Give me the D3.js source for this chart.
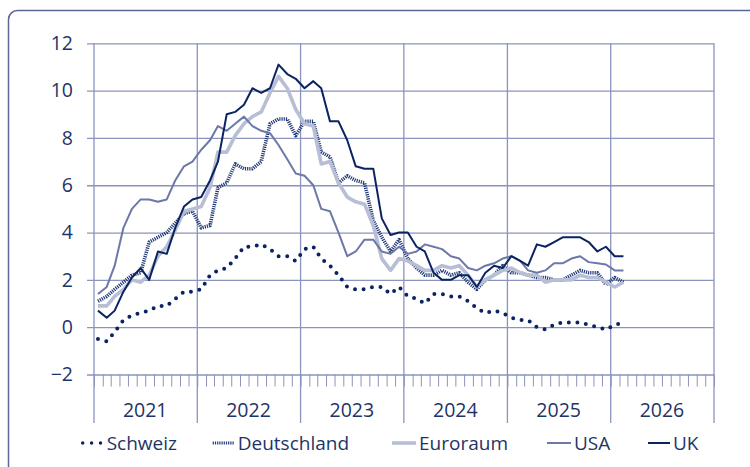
<!DOCTYPE html>
<html>
<head>
<meta charset="utf-8">
<script src="https://cdn.jsdelivr.net/npm/d3@7"></script>
<style>
  body { margin: 0; background: #fff; }
  svg text { font-family: "Open Sans", sans-serif; fill: #1f3466; }
</style>
</head>
<body>
<div id="maViz"></div>
<script>
// Teuerung in % ggü. Vorjahr, Monatswerte Jan 2021 - Feb 2026
const series = ["Schweiz", "Deutschland", "Euroraum", "USA", "UK"];
const yearLabels = ["2021", "2022", "2023", "2024", "2025", "2026"];
const yTicks = [-2, 0, 2, 4, 6, 8, 10, 12];

const schweiz = [
  -0.5, -0.6, -0.2, 0.3, 0.5, 0.6, 0.7, 0.9, 0.9, 1.2, 1.5, 1.5,
  1.6, 2.2, 2.4, 2.5, 2.9, 3.4, 3.4, 3.5, 3.3, 3.0, 3.0, 2.8,
  3.3, 3.4, 2.9, 2.6, 2.2, 1.7, 1.6, 1.6, 1.7, 1.7, 1.4, 1.7,
  1.3, 1.2, 1.0, 1.4, 1.4, 1.3, 1.3, 1.1, 0.8, 0.6, 0.7, 0.6,
  0.4, 0.3, 0.3, 0.0, -0.1, 0.1, 0.2, 0.2, 0.2, 0.1, 0.0, -0.1,
  0.1, 0.2
];
const deutschland = [
  1.1, 1.3, 1.6, 1.9, 2.2, 2.3, 3.6, 3.8, 4.0, 4.4, 4.8, 4.9,
  4.2, 4.3, 5.9, 6.1, 6.9, 6.7, 6.7, 7.0, 8.6, 8.8, 8.8, 8.1,
  8.7, 8.7, 7.4, 7.2, 6.1, 6.4, 6.2, 6.1, 4.5, 3.8, 3.2, 3.7,
  2.9, 2.5, 2.2, 2.2, 2.4, 2.2, 2.3, 1.9, 1.6, 2.0, 2.2, 2.6,
  2.3, 2.3, 2.2, 2.1, 2.1, 2.0, 2.0, 2.2, 2.4, 2.3, 2.3, 1.8,
  2.1, 1.9
];
const euroraum = [
  0.9, 0.9, 1.3, 1.6, 2.0, 1.9, 2.2, 3.0, 3.4, 4.1, 4.9, 5.0,
  5.1, 5.9, 7.4, 7.4, 8.1, 8.6, 8.9, 9.1, 9.9, 10.6, 10.1, 9.2,
  8.6, 8.5, 6.9, 7.0, 6.1, 5.5, 5.3, 5.2, 4.3, 2.9, 2.4, 2.9,
  2.8, 2.6, 2.4, 2.4, 2.6, 2.5, 2.6, 2.2, 1.7, 2.0, 2.2, 2.4,
  2.5, 2.3, 2.2, 2.2, 1.9, 2.0, 2.0, 2.0, 2.2, 2.1, 2.1, 1.9,
  1.7, 1.9
];
const usa = [
  1.4, 1.7, 2.6, 4.2, 5.0, 5.4, 5.4, 5.3, 5.4, 6.2, 6.8, 7.0,
  7.5, 7.9, 8.5, 8.3, 8.6, 8.9, 8.5, 8.3, 8.2, 7.7, 7.1, 6.5,
  6.4, 6.0, 5.0, 4.9, 4.0, 3.0, 3.2, 3.7, 3.7, 3.2, 3.1, 3.4,
  3.1, 3.2, 3.5, 3.4, 3.3, 3.0, 2.9, 2.5, 2.4, 2.6, 2.7, 2.9,
  3.0, 2.8, 2.4, 2.3, 2.4, 2.7, 2.7, 2.9, 3.0, 2.75, 2.7, 2.65,
  2.4, 2.4
];
const uk = [
  0.7, 0.4, 0.7, 1.5, 2.1, 2.5, 2.0, 3.2, 3.1, 4.2, 5.1, 5.4,
  5.5, 6.2, 7.0, 9.0, 9.1, 9.4, 10.1, 9.9, 10.1, 11.1, 10.7, 10.5,
  10.1, 10.4, 10.1, 8.7, 8.7, 7.9, 6.8, 6.7, 6.7, 4.6, 3.9, 4.0,
  4.0, 3.4, 3.2, 2.3, 2.0, 2.0, 2.2, 2.2, 1.7, 2.3, 2.6, 2.5,
  3.0, 2.8, 2.6, 3.5, 3.4, 3.6, 3.8, 3.8, 3.8, 3.6, 3.2, 3.4,
  3.0, 3.0
];
const values = [schweiz, deutschland, euroraum, usa, uk];

// styles par série
const styles = [
  {color: "#0b2461", width: 4,   dash: "0 8.6", cap: "round"},
  {color: "#213a78", width: 3.6, dash: "1.2 1", cap: "butt"},
  {color: "#b7bed6", width: 3.6, dash: null,    cap: "butt"},
  {color: "#6b78a8", width: 2,   dash: null,    cap: "butt"},
  {color: "#0b2461", width: 2,   dash: null,    cap: "butt"}
];
const gridColor = "#8a94bd";

const W = 750, H = 467;
const plotLeft = 94, plotRight = 714, plotTop = 43.3, plotBottom = 374.5;

const svg = d3.select("#maViz").append("svg")
  .attr("width", W).attr("height", H);

// cadre
svg.append("rect")
  .attr("x", 8.5).attr("y", 10.5)
  .attr("width", 800).attr("height", 500)
  .attr("rx", 9)
  .attr("fill", "none")
  .attr("stroke", "#5a6892")
  .attr("stroke-width", 1.5);

// échelles
const x = d3.scaleTime()
  .domain([new Date(2021, 0, 1), new Date(2027, 0, 1)])
  .range([plotLeft, plotRight]);
const y = d3.scaleLinear().domain([-2, 12]).range([plotBottom, plotTop]);

const dates = d3.range(schweiz.length).map(i => new Date(2021, i, 15));

// grille horizontale + labels Y
const yAxis = svg.append("g")
  .attr("transform", `translate(${plotRight},0)`)
  .call(d3.axisLeft(y).tickValues(yTicks).tickSize(plotRight - plotLeft + 7).tickPadding(14).tickFormat(d3.format("d")));
yAxis.select(".domain").remove();
yAxis.selectAll("line").attr("stroke", gridColor).attr("stroke-width", 1.3);
yAxis.selectAll("text").style("font-size", "19.5px").attr("fill", "#1f3466");

// lignes verticales des années
const years = d3.timeYear.range(new Date(2021, 0, 1), new Date(2027, 0, 2));
svg.append("g").selectAll("line")
  .data(years)
  .join("line")
    .attr("x1", d => x(d)).attr("x2", d => x(d))
    .attr("y1", plotTop).attr("y2", 423)
    .attr("stroke", gridColor).attr("stroke-width", 1.3);

// petites marques des mois
const xAxis = svg.append("g")
  .attr("transform", `translate(0,${plotBottom})`)
  .call(d3.axisBottom(x).ticks(d3.timeMonth.every(1)).tickSize(12).tickFormat(""));
xAxis.select(".domain").remove();
xAxis.selectAll("line").attr("stroke", gridColor).attr("stroke-width", 1);

// labels des années
svg.append("g").selectAll("text")
  .data(yearLabels)
  .join("text")
    .attr("x", d => x(new Date(+d, 6, 1)))
    .attr("y", 417)
    .attr("text-anchor", "middle")
    .style("font-size", "19.5px")
    .text(d => d);

// courbes
const line = d3.line()
  .x((d, i) => x(dates[i]))
  .y(d => y(d));

svg.append("g").selectAll("path")
  .data(values)
  .join("path")
    .attr("d", d => line(d))
    .attr("fill", "none")
    .attr("stroke", (d, i) => styles[i].color)
    .attr("stroke-width", (d, i) => styles[i].width)
    .attr("stroke-dasharray", (d, i) => styles[i].dash)
    .attr("stroke-linecap", (d, i) => styles[i].cap)
    .attr("stroke-linejoin", "round");

// légende
const legendX = [82.7, 212.7, 392, 547, 648];
const legendLen = [18, 22, 24, 24, 22];
const legendY = 443;
const legend = svg.append("g").selectAll("g")
  .data(series)
  .join("g")
    .attr("transform", (d, i) => `translate(${legendX[i]},${legendY})`);

legend.append("line")
  .attr("x1", 0).attr("x2", (d, i) => legendLen[i])
  .attr("y1", 0).attr("y2", 0)
  .attr("stroke", (d, i) => styles[i].color)
  .attr("stroke-width", (d, i) => i === 0 ? 3.5 : i === 1 ? 3 : styles[i].width)
  .attr("stroke-dasharray", (d, i) => i === 0 ? "0 8.9" : styles[i].dash)
  .attr("stroke-linecap", (d, i) => styles[i].cap);

legend.append("text")
  .attr("x", (d, i) => legendLen[i] + (i === 0 ? 6 : 3))
  .attr("y", 0)
  .attr("dy", "0.35em")
  .style("font-size", "19px")
  .text(d => d);
</script>
</body>
</html>
